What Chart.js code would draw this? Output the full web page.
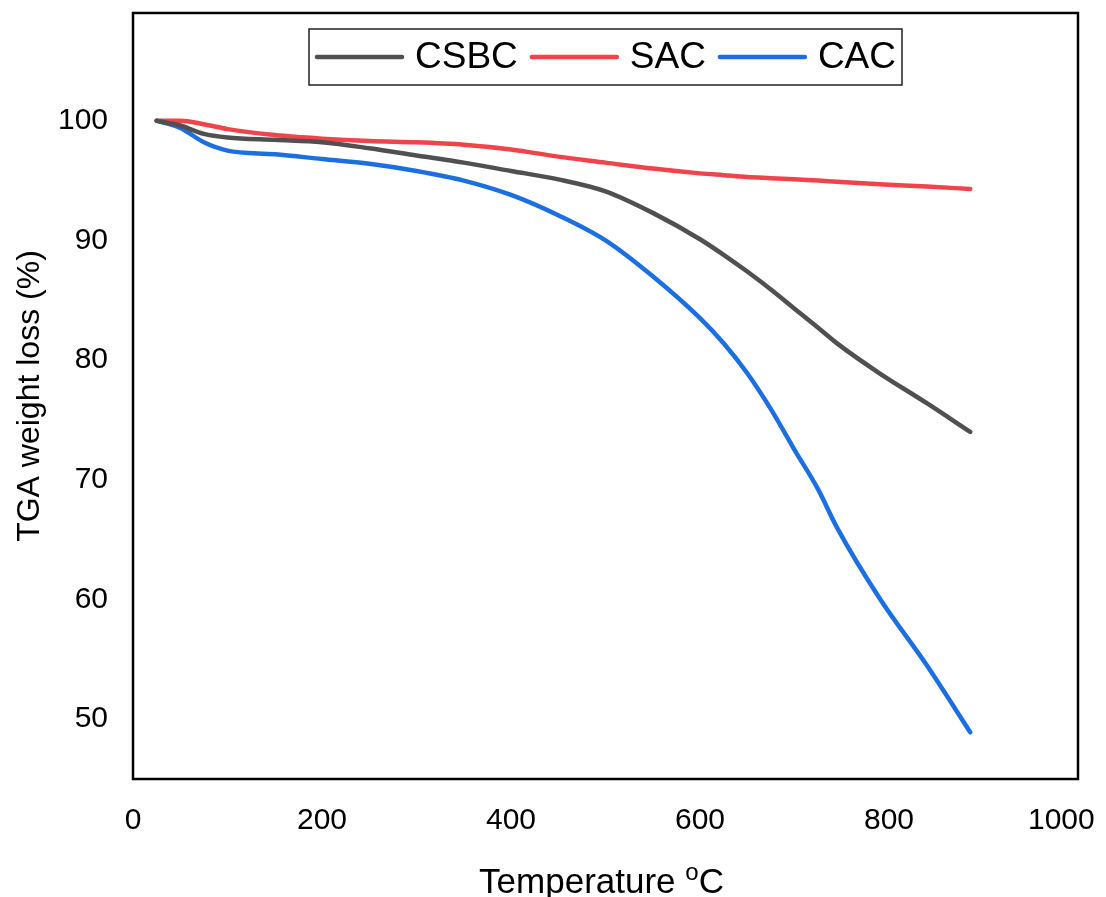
<!DOCTYPE html>
<html>
<head>
<meta charset="utf-8">
<script src="https://cdn.jsdelivr.net/npm/chart.js@4/dist/chart.umd.min.js"></script>
<style>
  html, body { margin: 0; padding: 0; background: #fff; }
  #wrap { width: 1106px; height: 897px; }
</style>
</head>
<body>
<div id="wrap"><canvas id="grafico" width="1106" height="897"></canvas></div>
<script>
// Temperaturas (°C)
const temperaturas = [25, 50, 75, 100, 150, 200, 250, 300, 350, 400, 450, 500, 550, 600, 625, 650, 675, 700, 725, 745, 790, 840, 886]

// Perda de massa (%) de cada amostra
const csbc = [100, 99.6, 98.9, 98.6, 98.4, 98.2, 97.7, 97.1, 96.5, 95.8, 95.1, 94.1, 92.3, 90.1, 88.8, 87.4, 85.9, 84.3, 82.7, 81.4, 78.9, 76.4, 74.0]
const sac  = [100, 100, 99.7, 99.3, 98.8, 98.5, 98.3, 98.2, 98.0, 97.6, 97.0, 96.5, 96.0, 95.6, 95.45, 95.3, 95.2, 95.1, 95.0, 94.9, 94.7, 94.5, 94.3]
const cac  = [100, 99.4, 98.2, 97.5, 97.2, 96.8, 96.4, 95.8, 95.0, 93.8, 92.1, 90.0, 87.0, 83.5, 81.4, 78.9, 75.9, 72.5, 69.2, 66.0, 60.1, 54.5, 48.9]

const nomes = ["CSBC", "SAC", "CAC"]
const cores = ["#505050", "#f0434a", "#1b6fe0"]

const ticksX = [0, 200, 400, 600, 800, 1000]
const ticksY = [50, 60, 70, 80, 90, 100]

const fonte = '"Liberation Sans", Arial, sans-serif'

// junta temperatura e valor em pontos {x, y}
function pontos(valores) {
    return temperaturas.map((t, i) => ({ x: t, y: valores[i] }))
}

// moldura preta, legenda em caixa e título do eixo x com "o" sobrescrito
const extras = {
    id: "extras",
    afterDraw(chart) {
        const ctx = chart.ctx
        const area = chart.chartArea
        ctx.save()
        ctx.strokeStyle = "#000"
        ctx.lineWidth = 2.5
        ctx.strokeRect(area.left, area.top, area.right - area.left, area.bottom - area.top)

        // legenda
        ctx.font = "37px " + fonte
        const linha = 89, gapTexto = 11, gapItem = 12, margem = 6
        let largura = margem * 2
        chart.data.datasets.forEach((ds, i) => {
            largura += linha + gapTexto + ctx.measureText(ds.label).width
            if (i > 0) largura += gapItem
        })
        const cx = (area.left + area.right) / 2
        const topo = area.top + 16, alt = 56
        let x = cx - largura / 2
        ctx.lineWidth = 1.5
        ctx.strokeStyle = "#222"
        ctx.strokeRect(x, topo, largura, alt)
        x += margem
        const ym = topo + alt / 2
        chart.data.datasets.forEach((ds, i) => {
            if (i > 0) x += gapItem
            ctx.beginPath()
            ctx.strokeStyle = ds.borderColor
            ctx.lineWidth = 4.5
            ctx.lineCap = "round"
            ctx.moveTo(x + 2, ym)
            ctx.lineTo(x + linha - 2, ym)
            ctx.stroke()
            x += linha + gapTexto
            ctx.fillStyle = "#000"
            ctx.textBaseline = "middle"
            ctx.textAlign = "left"
            ctx.fillText(ds.label, x, ym + 1)
            x += ctx.measureText(ds.label).width
        })

        // título do eixo x
        const t1 = "Temperature ", sup = "o", t2 = "C"
        ctx.textBaseline = "alphabetic"
        ctx.font = "35px " + fonte
        const w1 = ctx.measureText(t1).width
        const w3 = ctx.measureText(t2).width
        ctx.font = "24px " + fonte
        const w2 = ctx.measureText(sup).width
        let tx = cx - (w1 + w2 + w3) / 2 - 4
        const base = 893
        ctx.font = "35px " + fonte
        ctx.fillText(t1, tx, base)
        tx += w1
        ctx.font = "24px " + fonte
        ctx.fillText(sup, tx, base - 13)
        tx += w2
        ctx.font = "35px " + fonte
        ctx.fillText(t2, tx, base)
        ctx.restore()
    }
}

const config = {
    type: "line",
    data: {
        datasets: [
            { label: nomes[0], data: pontos(csbc), borderColor: cores[0] },
            { label: nomes[1], data: pontos(sac), borderColor: cores[1] },
            { label: nomes[2], data: pontos(cac), borderColor: cores[2] }
        ].map(ds => Object.assign(ds, {
            borderWidth: 4.5,
            pointRadius: 0,
            fill: false,
            cubicInterpolationMode: "monotone",
            borderCapStyle: "round",
            borderJoinStyle: "round"
        }))
    },
    options: {
        responsive: false,
        animation: false,
        layout: { padding: { top: 13, right: 28, left: 0, bottom: 0 } },
        plugins: {
            legend: { display: false },
            tooltip: { enabled: false }
        },
        scales: {
            x: {
                type: "linear",
                min: 0,
                max: 1000,
                afterBuildTicks: scale => { scale.ticks = ticksX.map(v => ({ value: v })) },
                afterFit: scale => {
                    scale.height = 118
                    scale.paddingLeft = 0
                    scale.paddingRight = 0
                },
                grid: { display: false, drawTicks: false },
                border: { display: false },
                ticks: {
                    padding: 24,
                    color: "#000",
                    font: { family: fonte, size: 30 },
                    // o último rótulo fica puxado para dentro da imagem, como no original
                    callback: v => v === 1000 ? "1000    " : String(v)
                }
            },
            y: {
                min: 45,
                max: 109,
                afterBuildTicks: scale => { scale.ticks = ticksY.map(v => ({ value: v })) },
                afterFit: scale => {
                    scale.width = 133
                    scale.paddingTop = 0
                    scale.paddingBottom = 0
                },
                grid: { display: false, drawTicks: false },
                border: { display: false },
                ticks: { padding: 25, color: "#000", font: { family: fonte, size: 30 } },
                title: {
                    display: true,
                    text: "TGA weight loss (%)",
                    color: "#000",
                    padding: { top: 11, bottom: 0 },
                    font: { family: fonte, size: 32 }
                }
            }
        }
    },
    plugins: [extras]
}

new Chart(document.getElementById("grafico").getContext("2d"), config)
</script>
</body>
</html>
